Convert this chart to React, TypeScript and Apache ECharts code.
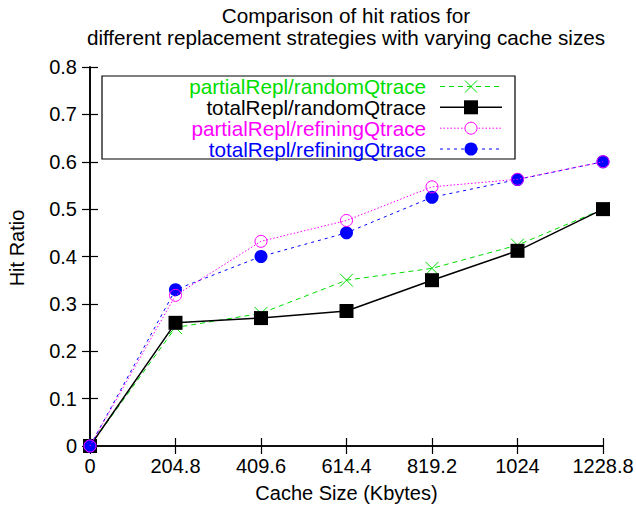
import React, { useEffect, useRef } from "react";
import * as echarts from "echarts";

const cacheSizes = [0, 204.8, 409.6, 614.4, 819.2, 1024, 1228.8];
const partialRandom = [0, 0.25, 0.28, 0.35, 0.375, 0.424, 0.5];
const totalRandom = [0, 0.26, 0.27, 0.285, 0.35, 0.412, 0.5];
const partialRefining = [0, 0.318, 0.432, 0.476, 0.547, 0.563, 0.6];
const totalRefining = [0, 0.33, 0.4, 0.45, 0.525, 0.5625, 0.6];
const seriesNames = [
  "partialRepl/randomQtrace",
  "totalRepl/randomQtrace",
  "partialRepl/refiningQtrace",
  "totalRepl/refiningQtrace",
];
const seriesColors = ["#00dd00", "#000000", "#ff00ff", "#0000ff"];
const titleLines = [
  "Comparison of hit ratios for",
  "different replacement strategies with varying cache sizes",
];
const xAxisName = "Cache Size (Kbytes)";
const yAxisName = "Hit Ratio";

const FONT = "Liberation Sans, Arial, Helvetica, sans-serif";
const FS = 20;
const FS_BIG = 20.7;
const crossPath = "path://M0,0L10,10M10,0L0,10";

export default function App() {
  const ref = useRef<HTMLDivElement>(null);
  useEffect(() => {
    if (!ref.current) return;
    const chart = echarts.init(ref.current, null, { renderer: "svg" });
    const pair = (ys: number[]) => cacheSizes.map((x, i) => [x, ys[i]]);

    const left = 90, right = 33, top = 67, bottom = 64;
    const axisLineStyle = { color: "#000", width: 1.6 };
    const tickCommon = { show: true, inside: true, length: 8, lineStyle: { color: "#000", width: 1.2 } };

    const rowYs = [86.5, 107.3, 128.2, 149];
    const textRight = 426;
    const lineX1 = 440, lineX2 = 502, markX = 471;
    const dashes = [[5, 4], null, [1.5, 2], [3, 4]];

    const graphics: any[] = [
      {
        type: "rect",
        shape: { x: 102, y: 76, width: 413, height: 83 },
        style: { fill: "#fff", stroke: "#000", lineWidth: 1.2 },
        z: 100,
      },
      {
        type: "text",
        x: 17,
        y: 248,
        rotation: Math.PI / 2,
        style: {
          text: yAxisName,
          fill: "#000",
          font: `${FS}px ${FONT}`,
          align: "center",
          verticalAlign: "middle",
        },
      },
    ];
    titleLines.forEach((t, i) => {
      graphics.push({
        type: "text",
        x: 346,
        y: 15 + i * 22,
        style: { text: t, fill: "#000", font: `${FS_BIG}px ${FONT}`, align: "center", verticalAlign: "middle" },
      });
    });
    seriesNames.forEach((name, i) => {
      const y = rowYs[i];
      graphics.push({
        type: "text",
        x: textRight,
        y,
        style: {
          text: name,
          fill: seriesColors[i],
          font: `${FS_BIG}px ${FONT}`,
          align: "right",
          verticalAlign: "middle",
        },
        z: 101,
      });
      graphics.push({
        type: "line",
        shape: { x1: lineX1, y1: y, x2: lineX2, y2: y },
        style: {
          stroke: seriesColors[i],
          lineWidth: i === 1 ? 1.5 : 1,
          lineDash: dashes[i] || undefined,
        },
        z: 101,
      });
    });
    graphics.push({
      type: "line",
      shape: { x1: markX - 6, y1: rowYs[0] - 6, x2: markX + 6, y2: rowYs[0] + 6 },
      style: { stroke: seriesColors[0], lineWidth: 1 },
      z: 102,
    });
    graphics.push({
      type: "line",
      shape: { x1: markX - 6, y1: rowYs[0] + 6, x2: markX + 6, y2: rowYs[0] - 6 },
      style: { stroke: seriesColors[0], lineWidth: 1 },
      z: 102,
    });
    graphics.push({
      type: "rect",
      shape: { x: markX - 7, y: rowYs[1] - 7, width: 14, height: 14 },
      style: { fill: "#000" },
      z: 102,
    });
    graphics.push({
      type: "circle",
      shape: { cx: markX, cy: rowYs[2], r: 6 },
      style: { fill: "#fff", stroke: seriesColors[2], lineWidth: 1 },
      z: 102,
    });
    graphics.push({
      type: "circle",
      shape: { cx: markX, cy: rowYs[3], r: 6.5 },
      style: { fill: seriesColors[3] },
      z: 102,
    });

    const fmt = (v: number) => String(Math.round(v * 10) / 10);
    const option: any = {
      animation: false,
      backgroundColor: "#fff",
      textStyle: { fontFamily: FONT },
      grid: { left, right, top, bottom, show: false, containLabel: false, outerBoundsMode: "none" },
      xAxis: [
        {
          type: "value",
          min: 0,
          max: 1228.8,
          interval: 204.8,
          name: xAxisName,
          nameLocation: "middle",
          nameGap: 37,
          nameTextStyle: { fontFamily: FONT, fontSize: FS, color: "#000" },
          axisLine: { show: true, lineStyle: axisLineStyle },
          axisTick: tickCommon,
          axisLabel: { fontFamily: FONT, fontSize: FS, color: "#000", margin: 10, formatter: fmt },
          splitLine: { show: false },
        },
        {
          type: "value",
          position: "top",
          min: 0,
          max: 1228.8,
          interval: 204.8,
          axisLine: { show: true, lineStyle: axisLineStyle },
          axisTick: tickCommon,
          axisLabel: { show: false },
          splitLine: { show: false },
        },
      ],
      yAxis: [
        {
          type: "value",
          min: 0,
          max: 0.8,
          interval: 0.1,
          axisLine: { show: true, lineStyle: axisLineStyle },
          axisTick: tickCommon,
          axisLabel: { fontFamily: FONT, fontSize: FS, color: "#000", margin: 13, formatter: fmt },
          splitLine: { show: false },
        },
        {
          type: "value",
          position: "right",
          min: 0,
          max: 0.8,
          interval: 0.1,
          axisLine: { show: true, lineStyle: axisLineStyle },
          axisTick: tickCommon,
          axisLabel: { show: false },
          splitLine: { show: false },
        },
      ],
      graphic: graphics,
      series: [
        {
          name: seriesNames[0],
          type: "line",
          data: pair(partialRandom),
          symbol: crossPath,
          symbolSize: 13,
          itemStyle: { color: "rgba(0,0,0,0)", borderColor: seriesColors[0], borderWidth: 1 },
          lineStyle: { color: seriesColors[0], width: 1, type: [5, 4] },
          z: 2,
        },
        {
          name: seriesNames[1],
          type: "line",
          data: pair(totalRandom),
          symbol: "rect",
          symbolSize: 14,
          itemStyle: { color: seriesColors[1] },
          lineStyle: { color: seriesColors[1], width: 1.5 },
          z: 3,
        },
        {
          name: seriesNames[3],
          type: "line",
          data: pair(totalRefining),
          symbol: "circle",
          symbolSize: 13,
          itemStyle: { color: seriesColors[3] },
          lineStyle: { color: seriesColors[3], width: 1, type: [3, 4] },
          z: 4,
        },
        {
          name: seriesNames[2],
          type: "line",
          data: pair(partialRefining),
          symbol: "circle",
          symbolSize: 12,
          itemStyle: { color: "rgba(0,0,0,0)", borderColor: seriesColors[2], borderWidth: 1 },
          lineStyle: { color: seriesColors[2], width: 1, type: [1.5, 2] },
          z: 5,
        },
      ],
    };
    chart.setOption(option);
    return () => chart.dispose();
  }, []);
  return (
    <div
      ref={ref}
      style={{ position: "absolute", left: 0, top: 0, width: 636, height: 510 }}
    />
  );
}
